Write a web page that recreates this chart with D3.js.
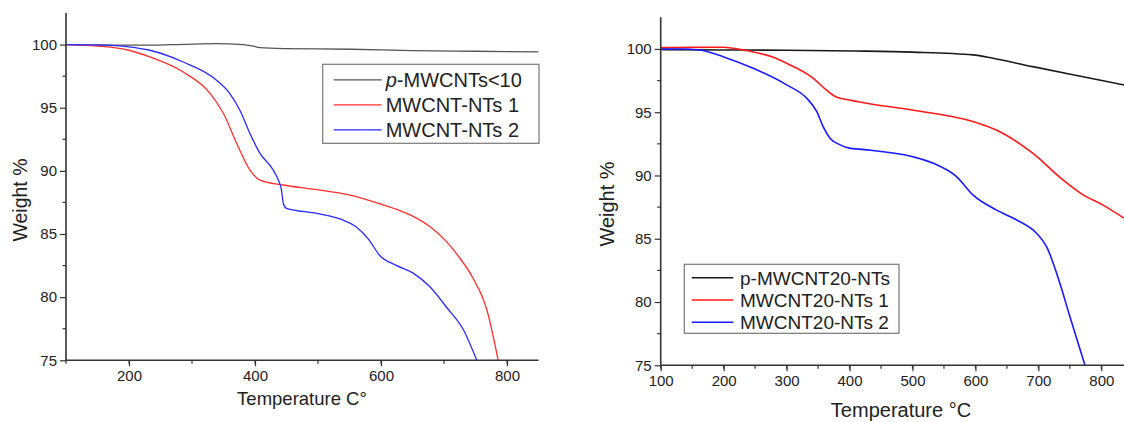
<!DOCTYPE html>
<html lang="en">
<head>
<meta charset="UTF-8">
<title>TGA curves</title>
<script src="https://cdn.jsdelivr.net/npm/d3@7"></script>
<style>
body { margin: 0; background: #fff; }
svg { display: block; }
text { font-family: Arial, "Liberation Sans", sans-serif; fill: #222; }
</style>
</head>
<body>
<svg width="1124" height="422"></svg>
<script>
// left panel, [temperature, weight %]
var leftBlack = [[100,100],[150,99.95],[233,99.95],[286,100.02],[339,100.08],[381,100],[395,99.9],[408,99.76],[445,99.68],[551,99.63],[650,99.52],[750,99.47],[850,99.42]];
var leftRed = [[100,100],[150,99.88],[200,99.55],[233,99.02],[286,97.83],[329,96.12],[350,94.54],[371,92.17],[392,90.06],[408,89.27],[445,88.88],[492,88.55],[551,88.08],[598,87.4],[625,86.95],[651,86.4],[680,85.5],[704,84.4],[725,83.1],[745,81.6],[768,79.0],[786,75]];
var leftBlue = [[100,100],[150,99.97],[200,99.82],[233,99.55],[286,98.62],[339,97.18],[360,96.12],[376,94.8],[392,92.96],[408,91.38],[429,90.06],[437,89.27],[442,88.5],[445,87.42],[450,87.03],[498,86.63],[540,86.1],[560,85.6],[580,84.6],[598,83.3],[625,82.5],[651,81.9],[678,80.8],[704,79.2],[731,77.4],[752,75]];
var leftNames = ["-MWCNTs<10", "MWCNT-NTs 1", "MWCNT-NTs 2"];

// right panel
var rightBlack = [[100,99.95],[200,99.92],[300,99.9],[408,99.84],[500,99.75],[596,99.53],[628,99.26],[691,98.6],[771,97.8],[836,97.16]];
var rightRed = [[100,100.1],[150,100.12],[199,100.13],[236,99.87],[279,99.34],[300,98.87],[342,97.7],[363,96.76],[379,96.2],[400,95.97],[416,95.8],[499,95.18],[596,94.26],[638,93.47],[691,91.76],[739,89.65],[771,88.47],[802,87.68],[836,86.63]];
var rightBlue = [[100,100],[131,100],[162,99.92],[199,99.39],[247,98.47],[300,97.16],[332,96.1],[348,95.05],[358,93.86],[369,92.95],[385,92.42],[400,92.16],[416,92.08],[499,91.5],[533,90.97],[570,89.91],[596,88.47],[633,87.28],[665,86.5],[697,85.44],[713,84.38],[734,81.5],[750,78.85],[774,75]];
var rightNames = ["p-MWCNT20-NTs", "MWCNT20-NTs 1", "MWCNT20-NTs 2"];

var yTicks = [75, 80, 85, 90, 95, 100];
var svg = d3.select("svg");

function panel(o) {
    var x = d3.scaleLinear().domain(o.xDomain).range([o.left, o.right]);
    var y = d3.scaleLinear().domain([75, 102.5]).range([o.bottom, o.top]);
    var g = svg.append("g");
    var line = d3.line().x(function(d) { return x(d[0]); }).y(function(d) { return y(d[1]); }).curve(d3.curveMonotoneX);

    o.series.forEach(function(s, i) {
        g.append("path").datum(s).attr("fill", "none").attr("stroke", o.colors[i])
            .attr("stroke-width", o.lw).attr("d", line);
    });

    // minor ticks
    var xMinor = d3.range(o.xDomain[0], o.xDomain[1] + 1, o.xMinorStep);
    g.selectAll(".xminor").data(xMinor).enter().append("line")
        .attr("x1", function(d) { return x(d); }).attr("x2", function(d) { return x(d); })
        .attr("y1", o.bottom).attr("y2", o.bottom + 3.5).attr("stroke", "#333").attr("stroke-width", 1.2);
    g.selectAll(".yminor").data(d3.range(77.5, 100, 5)).enter().append("line")
        .attr("y1", function(d) { return y(d); }).attr("y2", function(d) { return y(d); })
        .attr("x1", o.left).attr("x2", o.left - 3.5).attr("stroke", "#333").attr("stroke-width", 1.2);

    var xAxis = d3.axisBottom(x).tickValues(o.xTicks).tickSize(6).tickPadding(4).tickFormat(d3.format("d"));
    var yAxis = d3.axisLeft(y).tickValues(yTicks).tickSize(6).tickPadding(3).tickFormat(d3.format("d"));
    var ga = g.append("g").attr("transform", "translate(0," + o.bottom + ")").call(xAxis);
    var gb = g.append("g").attr("transform", "translate(" + o.left + ",0)").call(yAxis);
    [ga, gb].forEach(function(a) {
        a.selectAll(".domain").attr("stroke", "#333").attr("stroke-width", 1.6);
        a.selectAll(".tick line").attr("stroke", "#333").attr("stroke-width", 1.2);
        a.selectAll(".tick text").style("font-size", "15px")
            .style("font-family", "Arial, 'Liberation Sans', sans-serif").attr("fill", "#222");
    });
    ga.select(".domain").attr("d", "M" + o.left + ",0H" + o.right);
    gb.select(".domain").attr("d", "M0," + o.bottom + "V" + o.top);

    g.append("text").attr("text-anchor", "middle")
        .attr("x", o.xTitleX).attr("y", o.xTitleY).style("font-size", o.xTitleSize + "px").text(o.xTitle);
    g.append("text").attr("text-anchor", "middle")
        .attr("transform", "translate(" + o.yTitleX + "," + o.yTitleY + ") rotate(-90)")
        .style("font-size", o.yTitleSize + "px").text("Weight %");

    // legend
    var L = o.legend;
    g.append("rect").attr("x", L.x).attr("y", L.y).attr("width", L.w).attr("height", L.h)
        .attr("fill", "#fff").attr("stroke", "#777").attr("stroke-width", 1.2);
    o.names.forEach(function(n, i) {
        var yy = L.y + L.first + i * L.step;
        g.append("line").attr("x1", L.x + L.lx1).attr("x2", L.x + L.lx2).attr("y1", yy).attr("y2", yy)
            .attr("stroke", o.colors[i]).attr("stroke-width", o.lw);
        var t = g.append("text").attr("x", L.x + L.tx).attr("y", yy + L.fs * 0.36).style("font-size", L.fs + "px");
        if (i === 0 && L.italicP) {
            t.append("tspan").style("font-style", "italic").text("p");
        }
        t.append("tspan").text(n);
    });
}

panel({
    series: [leftBlack, leftRed, leftBlue],
    colors: ["#555555", "#ff3030", "#2a2aff"],
    lw: 1.3,
    names: leftNames,
    xDomain: [100, 850], xTicks: [200, 400, 600, 800], xMinorStep: 100,
    left: 66, right: 538.5, top: 13, bottom: 360.3,
    xTitle: "Temperature C\u00b0", xTitleX: 302, xTitleY: 405, xTitleSize: 18.5,
    yTitleX: 27, yTitleY: 200, yTitleSize: 19.5,
    legend: { x: 322.7, y: 64.3, w: 216.3, h: 79, first: 15.5, step: 25, lx1: 11, lx2: 59, tx: 63, fs: 20, italicP: true }
});

panel({
    series: [rightBlack, rightRed, rightBlue],
    colors: ["#1a1a1a", "#ff1a1a", "#1a1aff"],
    lw: 1.6,
    names: rightNames,
    xDomain: [100, 836], xTicks: [100, 200, 300, 400, 500, 600, 700, 800], xMinorStep: 50,
    left: 660.7, right: 1124, top: 17.3, bottom: 365.3,
    xTitle: "Temperature \u00b0C", xTitleX: 901, xTitleY: 416.5, xTitleSize: 20,
    yTitleX: 614, yTitleY: 204, yTitleSize: 20,
    legend: { x: 684.3, y: 264.3, w: 214.7, h: 69, first: 13.5, step: 22.2, lx1: 7.4, lx2: 49, tx: 55.7, fs: 19, italicP: false }
});
</script>
</body>
</html>
